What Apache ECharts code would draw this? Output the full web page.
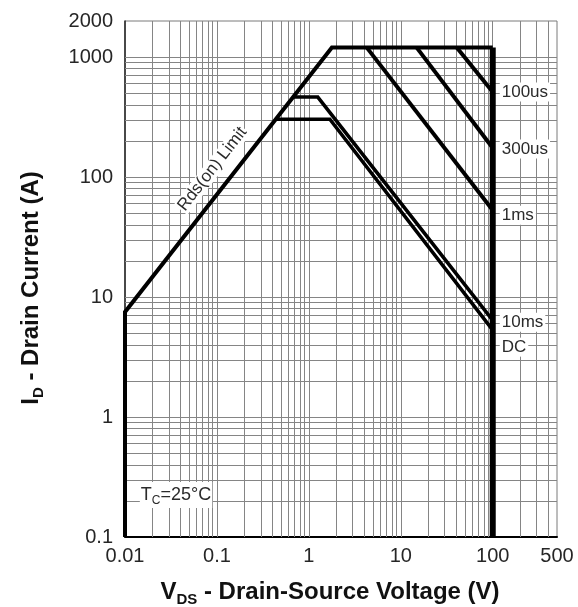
<!DOCTYPE html>
<html>
<head>
<meta charset="utf-8">
<script src="https://cdn.jsdelivr.net/npm/echarts@6/dist/echarts.min.js"></script>
<style>html,body{margin:0;padding:0;background:#fff}#c{width:578px;height:607px}</style>
</head>
<body>
<div id="c"></div>
<script>
// ---- data (V in volts, I in amps) ----
const xTickLabels = [0.01, 0.1, 1, 10, 100, 500];
const yTickLabels = [0.1, 1, 10, 100, 1000, 2000];
const rdsOnLimit = [[0.01, 0.1], [0.01, 7.5], [1.78, 1200], [100, 1200]];
const voltageLimit = [[100, 1200], [100, 0.1]];
const pulse100us = [[40.6, 1200], [100, 511]];
const pulse300us = [[14.9, 1200], [100, 175]];
const pulse1ms = [[4.27, 1200], [100, 53]];
const pulse10ms = [[0.69, 464], [1.25, 464], [100, 6.4]];
const dcLine = [[0.45, 304], [1.69, 304], [100, 5.3]];
const curveNames = ['100us', '300us', '1ms', '10ms', 'DC'];

const FONT = '"Liberation Sans", Arial, sans-serif';
const X_MIN = xTickLabels[0], X_MAX = xTickLabels[xTickLabels.length - 1];
const Y_MIN = yTickLabels[0], Y_MAX = yTickLabels[yTickLabels.length - 1];

function gridValues(min, max) {
  const out = [];
  for (let d = min; d < max; d *= 10) {
    for (let k = 1; k <= 9; k++) {
      const v = parseFloat((k * d).toPrecision(3));
      if (v > min * 1.0001 && v < max * 0.9999) out.push(v);
    }
  }
  return out;
}
const xGrid = gridValues(X_MIN, X_MAX);
const yGrid = gridValues(Y_MIN, Y_MAX);

function fmt(list) {
  return function (v) {
    const n = parseFloat(Number(v).toPrecision(6));
    for (const t of list) if (Math.abs(t - n) / t < 1e-6) return String(t);
    return '';
  };
}

const chart = echarts.init(document.getElementById('c'), null, {renderer: 'canvas'});
const lineSeries = (name, data, width, clip) => ({
  name, type: 'line', data, symbol: 'none', z: 3, clip: clip,
  lineStyle: {color: '#000', width: width, join: 'miter'},
  silent: true
});

const option = {
  animation: false,
  backgroundColor: '#fff',
  grid: {left: 125, top: 21, right: 21, bottom: 70, show: true, borderColor: '#7a7a7a', borderWidth: 1, backgroundColor: 'transparent'},
  xAxis: {
    type: 'log', logBase: 10, min: X_MIN, max: X_MAX,
    axisLine: {show: true, onZero: false, lineStyle: {color: '#000', width: 2}},
    axisTick: {show: false}, splitLine: {show: false},
    axisLabel: {formatter: fmt(xTickLabels), fontSize: 20, color: '#262626', margin: 9, fontFamily: FONT}
  },
  yAxis: {
    type: 'log', logBase: 10, min: Y_MIN, max: Y_MAX,
    axisLine: {show: true, onZero: false, lineStyle: {color: '#222', width: 1.5}},
    axisTick: {show: false}, splitLine: {show: false},
    axisLabel: {formatter: fmt(yTickLabels), fontSize: 20, color: '#262626', margin: 12, fontFamily: FONT}
  },
  series: [
    {
      name: 'grid', type: 'line', data: [[X_MIN, Y_MIN]], symbol: 'none', silent: true,
      lineStyle: {width: 0},
      markLine: {
        silent: true, symbol: ['none', 'none'], z: 1, label: {show: false},
        lineStyle: {color: '#858585', width: 1, type: 'solid'},
        data: xGrid.map(v => ({xAxis: v})).concat(yGrid.map(v => ({yAxis: v})))
      }
    },
    lineSeries('Rds(on) Limit', rdsOnLimit, 4, false),
    lineSeries('Voltage limit', voltageLimit, 6, false),
    lineSeries('100us', pulse100us, 4, true),
    lineSeries('300us', pulse300us, 4, true),
    lineSeries('1ms', pulse1ms, 4, true),
    lineSeries('10ms', pulse10ms, 3.5, true),
    lineSeries('DC', dcLine, 3.5, true)
  ]
};
chart.setOption(option);

const toPx = p => chart.convertToPixel({seriesIndex: 1}, p);
const graphics = [];
const curveData = [pulse100us, pulse300us, pulse1ms, pulse10ms, dcLine];
const labelDy = [0, 1, 5, 2, 17];
curveData.forEach((d, i) => {
  const p = toPx(d[d.length - 1]);
  graphics.push({
    type: 'text', x: p[0] + 7, y: p[1] + labelDy[i], z: 10, silent: true,
    style: {text: curveNames[i], font: '17px ' + FONT, fill: '#2b2b2b', align: 'left', verticalAlign: 'middle',
      backgroundColor: '#fff', padding: [1, 2]}
  });
});

// Rds(on) Limit label along the limit line
const a = toPx(rdsOnLimit[1]), b = toPx(rdsOnLimit[2]);
const ang = Math.atan2(-(b[1] - a[1]), b[0] - a[0]);
const foot = toPx([0.135, 91]);
const nx = -Math.sin(ang), ny = -Math.cos(ang); // upper-left normal
graphics.push({
  type: 'text', x: foot[0] + nx * 21, y: foot[1] + ny * 21, rotation: ang, z: 10, silent: true,
  style: {text: 'Rds(on) Limit', font: '17px ' + FONT, fill: '#2b2b2b', align: 'center', verticalAlign: 'middle',
    backgroundColor: '#fff', padding: [0, 1]}
});

// Tc annotation
const tc = toPx([0.0145, 0.224]);
graphics.push({
  type: 'text', x: tc[0], y: tc[1], z: 10, silent: true,
  style: {
    text: '{a|T}{s|C}{a|=25°C}', align: 'left', verticalAlign: 'middle', backgroundColor: '#fff', padding: [1, 1],
    rich: {
      a: {fontSize: 18, fontFamily: FONT, fill: '#2b2b2b', lineHeight: 24, verticalAlign: 'middle'},
      s: {fontSize: 12, fontFamily: FONT, fill: '#2b2b2b', lineHeight: 24, verticalAlign: 'bottom'}
    }
  }
});

// axis titles
const titleRich = {
  a: {fontSize: 24, fontWeight: 'bold', fontFamily: FONT, fill: '#111', lineHeight: 30, verticalAlign: 'middle'},
  s: {fontSize: 15, fontWeight: 'bold', fontFamily: FONT, fill: '#111', lineHeight: 30, verticalAlign: 'bottom'}
};
graphics.push({
  type: 'text', x: 330, y: 592, z: 10, silent: true,
  style: {text: '{a|V}{s|DS}{a| - Drain-Source Voltage (V)}', align: 'center', verticalAlign: 'middle', rich: titleRich}
});
graphics.push({
  type: 'text', x: 31, y: 288, rotation: Math.PI / 2, z: 10, silent: true,
  style: {text: '{a|I}{s|D}{a| - Drain Current (A)}', align: 'center', verticalAlign: 'middle', rich: titleRich}
});
chart.setOption({graphic: graphics});
</script>
</body>
</html>
